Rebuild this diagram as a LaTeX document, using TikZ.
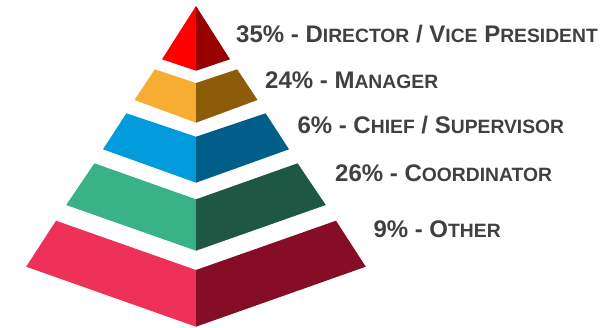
\documentclass[tikz,border=0pt]{standalone}
\usepackage{fontspec}
\setmainfont{Liberation Sans}
\usepackage{tikz}

\definecolor{txtgray}{HTML}{404040}
\definecolor{redL}{HTML}{FF0000}
\definecolor{redR}{HTML}{980000}
\definecolor{orgL}{HTML}{F5AE32}
\definecolor{orgR}{HTML}{8C5C08}
\definecolor{bluL}{HTML}{029BDB}
\definecolor{bluR}{HTML}{005E88}
\definecolor{grnL}{HTML}{38B286}
\definecolor{grnR}{HTML}{1E5844}
\definecolor{crmL}{HTML}{EE3159}
\definecolor{crmR}{HTML}{850D25}

% small capitals made by hand
\newcommand{\lowcap}[1]{{\fontsize{19.3}{23}\selectfont #1}}

\begin{document}
\begin{tikzpicture}[x=1pt,y=-1pt,
  lbl/.style={anchor=base west,inner sep=0pt,text=txtgray,font=\fontsize{24}{28}\selectfont\bfseries}]
  \useasboundingbox (0,0) rectangle (602,327);
  % tiers: colours, top half width, top corner y, top centre y, bottom half width, bottom corner y, bottom centre y
  \foreach \cl/\cr/\wt/\yt/\ct/\wb/\yb/\cb in {
      redL/redR/0/6/6/34/59.3/70.7,
      orgL/orgR/41.2/69.3/83/61.5/100/122.7,
      bluL/bluR/69.6/113.3/136.7/93/149.3/182.7,
      grnL/grnR/101.6/163.3/199.3/129.8/205/250.7,
      crmL/crmR/140/220.7/270/169.8/266.7/326.7} {
    \fill[\cl] (196-\wt,\yt) -- (196,\ct) -- (196,\cb) -- (196-\wb,\yb) -- cycle;
    \fill[\cr] (196+\wt,\yt) -- (196,\ct) -- (196,\cb) -- (196+\wb,\yb) -- cycle;
  }
  \node[lbl] (director) at (236,42.3) {35\% - D\lowcap{IRECTOR} / V\lowcap{ICE} P\lowcap{RESIDENT}};
  \node[lbl] (manager) at (265,88.3) {24\% - M\lowcap{ANAGER}};
  \node[lbl] (chief) at (297.3,133.3) {6\% - C\lowcap{HIEF} / S\lowcap{UPERVISOR}};
  \node[lbl] (coord) at (335,181.7) {26\% - C\lowcap{OORDINATOR}};
  \node[lbl] (other) at (373.3,237.7) {9\% - O\lowcap{THER}};
\end{tikzpicture}
\end{document}
